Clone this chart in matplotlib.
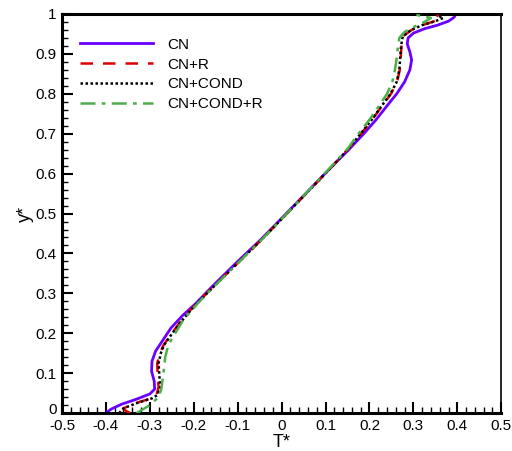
import matplotlib
matplotlib.use("Agg")
import matplotlib.pyplot as plt
from matplotlib.ticker import MultipleLocator
from matplotlib.transforms import ScaledTranslation

# CN (blue)
cn_T = [-0.400, -0.388, -0.365, -0.330, -0.300, -0.289, -0.290, -0.296, -0.295, -0.287,
        -0.272, -0.252, -0.225, -0.195, -0.160, -0.100, -0.048, 0.000, 0.060, 0.120,
        0.152, 0.187, 0.215, 0.240, 0.262, 0.280, 0.292, 0.296, 0.292, 0.286,
        0.288, 0.300, 0.325, 0.355, 0.380, 0.393, 0.396]
cn_y = [0.000, 0.010, 0.022, 0.035, 0.048, 0.060, 0.080, 0.105, 0.130, 0.155,
        0.180, 0.213, 0.245, 0.275, 0.315, 0.380, 0.434, 0.488, 0.556, 0.624,
        0.659, 0.700, 0.735, 0.770, 0.800, 0.830, 0.860, 0.885, 0.905, 0.925,
        0.940, 0.952, 0.963, 0.972, 0.982, 0.992, 1.000]

# CN+R (red)
cnr_T = [-0.345, -0.355, -0.360, -0.335, -0.300, -0.285, -0.280, -0.282, -0.283, -0.277,
         -0.269, -0.253, -0.233, -0.206, -0.171, -0.110, -0.048, 0.000, 0.060, 0.120,
         0.150, 0.181, 0.206, 0.229, 0.249, 0.263, 0.269, 0.271, 0.273, 0.277,
         0.296, 0.320, 0.348, 0.363, 0.356, 0.350]
cnr_y = [0.000, 0.006, 0.012, 0.024, 0.036, 0.045, 0.065, 0.090, 0.125, 0.150,
         0.170, 0.195, 0.225, 0.260, 0.300, 0.365, 0.432, 0.486, 0.555, 0.624,
         0.660, 0.700, 0.735, 0.770, 0.800, 0.830, 0.860, 0.890, 0.920, 0.945,
         0.960, 0.972, 0.982, 0.990, 0.995, 1.000]

# CN+COND (black)
cnc_T = [-0.370, -0.360, -0.330, -0.295, -0.283, -0.276, -0.278, -0.280, -0.275, -0.268,
         -0.252, -0.232, -0.205, -0.170, -0.110, -0.048, 0.000, 0.060, 0.120, 0.150,
         0.180, 0.205, 0.228, 0.248, 0.262, 0.268, 0.270, 0.272, 0.276, 0.295,
         0.320, 0.350, 0.368, 0.358, 0.347]
cnc_y = [0.000, 0.012, 0.025, 0.037, 0.045, 0.065, 0.090, 0.125, 0.150, 0.170,
         0.195, 0.225, 0.260, 0.300, 0.365, 0.432, 0.486, 0.555, 0.624, 0.660,
         0.700, 0.735, 0.770, 0.800, 0.830, 0.860, 0.890, 0.920, 0.945, 0.960,
         0.972, 0.982, 0.990, 0.995, 1.000]

# CN+COND+R (green)
cncr_T = [-0.330, -0.300, -0.280, -0.274, -0.270, -0.267, -0.265, -0.258, -0.245, -0.224,
          -0.195, -0.165, -0.105, -0.045, 0.000, 0.060, 0.120, 0.150, 0.175, 0.200,
          0.222, 0.240, 0.252, 0.258, 0.262, 0.265, 0.268, 0.280, 0.300, 0.325,
          0.340, 0.320, 0.295]
cncr_y = [0.000, 0.020, 0.040, 0.060, 0.090, 0.120, 0.140, 0.170, 0.195, 0.233,
          0.270, 0.305, 0.370, 0.435, 0.486, 0.556, 0.626, 0.662, 0.700, 0.735,
          0.770, 0.800, 0.830, 0.860, 0.890, 0.920, 0.940, 0.955, 0.967, 0.980,
          0.990, 0.995, 1.000]

labels = ["CN", "CN+R", "CN+COND", "CN+COND+R"]

plt.rcParams['font.family'] = ['Liberation Sans', 'DejaVu Sans']

fig = plt.figure(figsize=(5.12, 4.51), dpi=100)
ax = fig.add_axes([0.121, 0.084, 0.858, 0.885])

ax.plot(cn_T, cn_y, color="#6a00ff", lw=2.0, label=labels[0], zorder=2)
ax.plot(cnr_T, cnr_y, color="#dd0000", lw=1.8, ls=(0, (5, 4)), label=labels[1], zorder=3)
ax.plot(cnc_T, cnc_y, color="black", lw=1.8, ls=(0, (1, 1)), label=labels[2], zorder=4)
ax.plot(cncr_T, cncr_y, color="#4daf4a", lw=1.8, ls=(0, (6, 2.5, 1.5, 2.5)), label=labels[3], zorder=5)

ax.set_xlim(-0.5, 0.5)
ax.set_ylim(0, 1)
ax.xaxis.set_minor_locator(MultipleLocator(0.02))
ax.yaxis.set_minor_locator(MultipleLocator(0.02))
ax.set_xticks([i / 10 for i in range(-5, 6)])
ax.set_xticklabels(["-0.5", "-0.4", "-0.3", "-0.2", "-0.1", "0", "0.1", "0.2", "0.3", "0.4", "0.5"])
ax.set_yticks([i / 10 for i in range(0, 11)])
ax.set_yticklabels(["0", "0.1", "0.2", "0.3", "0.4", "0.5", "0.6", "0.7", "0.8", "0.9", "1"])

ax.tick_params(which="major", direction="in", length=8, width=1.5, labelsize=11, pad=4,
               top=False, right=False)
ax.tick_params(which="minor", direction="in", length=4, width=1.0, top=False, right=False)

# nudge the "0" y-label up slightly, as in the reference
lbl0 = ax.get_yticklabels()[0]
lbl0.set_transform(lbl0.get_transform() + ScaledTranslation(0, 3 / 72, fig.dpi_scale_trans))

for side in ["left", "bottom", "top"]:
    ax.spines[side].set_linewidth(2.2)
ax.spines["right"].set_linewidth(1.2)

ax.set_xlabel("T*", fontsize=13, labelpad=1)
ax.set_ylabel("y*", fontsize=13, labelpad=1)

leg = ax.legend(loc="upper left", frameon=False, fontsize=11, handlelength=4.8,
                handletextpad=0.9, labelspacing=0.38, bbox_to_anchor=(0.01, 0.975))

fig.savefig("out.png", dpi=100)
